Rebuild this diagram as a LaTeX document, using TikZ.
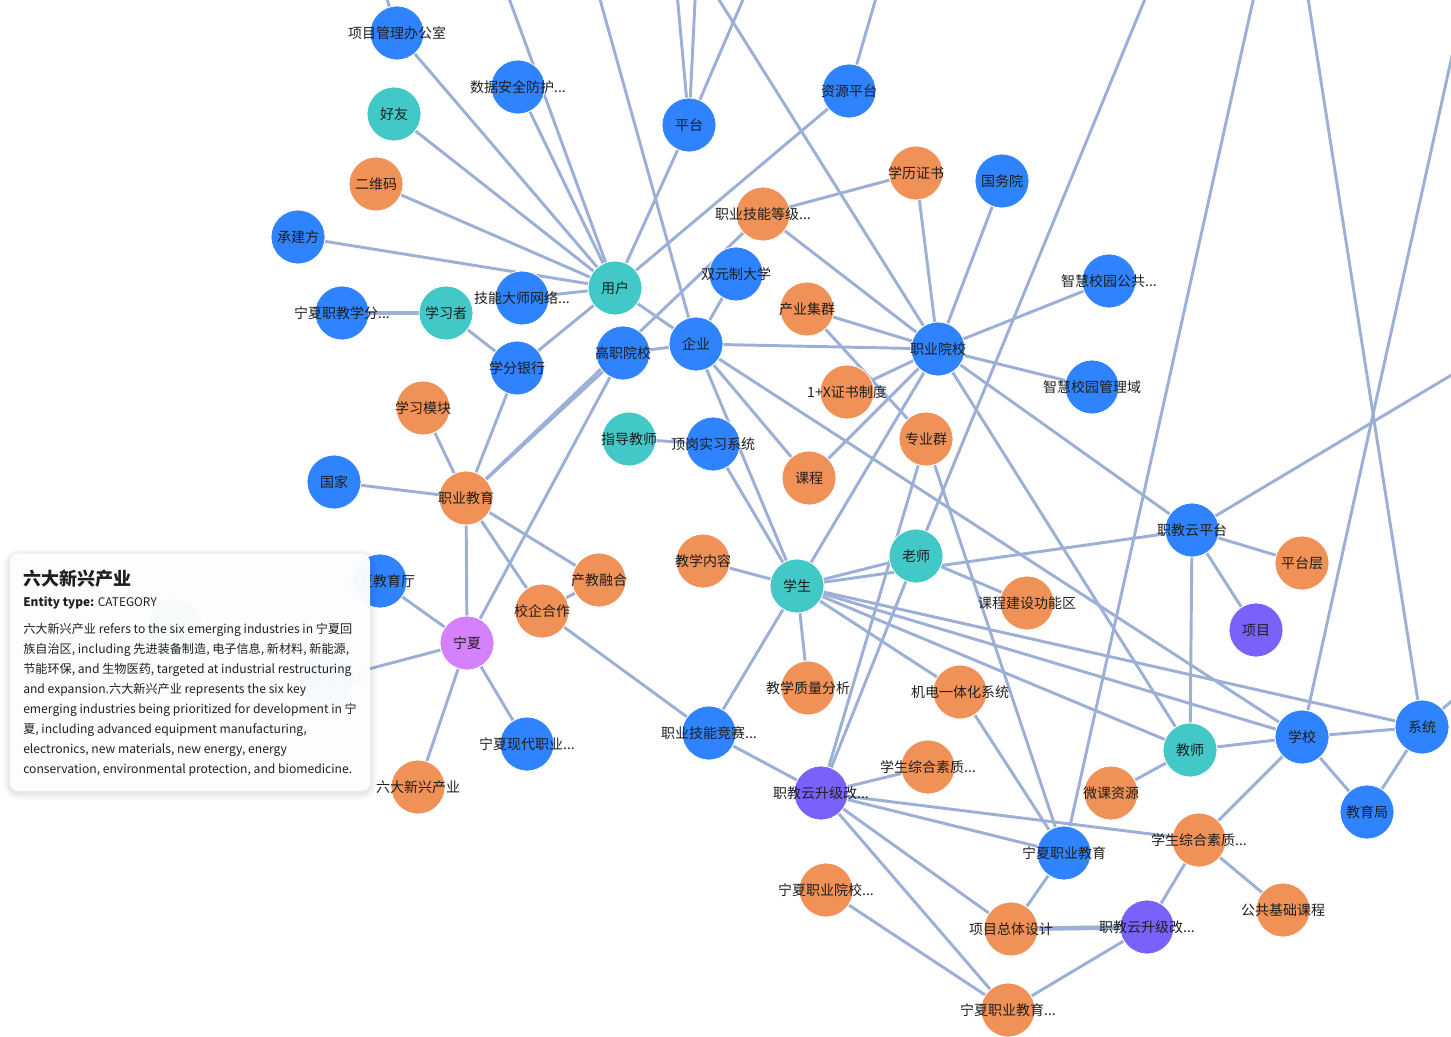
\documentclass[tikz,border=0pt]{standalone}
\usepackage{fontspec}
\setmainfont{Noto Sans CJK SC}
\usetikzlibrary{backgrounds}
\definecolor{OrgBlue}{HTML}{2F83FF}
\definecolor{RoleTeal}{HTML}{42C8C6}
\definecolor{CatOrange}{HTML}{F09157}
\definecolor{ProjPurple}{HTML}{7862FA}
\definecolor{GeoPink}{HTML}{D580FC}
\definecolor{EdgeGrey}{HTML}{9CAFD6}
\definecolor{Ink}{HTML}{1F1F1F}
\tikzset{
  ent/.style={circle,minimum size=40.5pt,inner sep=0pt,draw=white,line width=0.6pt,
    label={[font=\fontsize{10.5}{12}\selectfont,text=Ink]center:#1}},
  org/.style={ent={#1},fill=OrgBlue},
  role/.style={ent={#1},fill=RoleTeal},
  cat/.style={ent={#1},fill=CatOrange},
  proj/.style={ent={#1},fill=ProjPurple},
  geo/.style={ent={#1},fill=GeoPink},
  link/.style={EdgeGrey,line width=2.2pt},
  tipline/.style={anchor=west,inner sep=0pt,text=Ink,font=\fontsize{9.1}{11}\selectfont}
}

\begin{document}
\begin{tikzpicture}[x=0.75pt,y=-0.75pt]
  \useasboundingbox (0,0) rectangle (1451,1037);
  % nodes, left part
  \node[org=项目管理办公室] (xmgl) at (397,33) {};
  \node[org=数据安全防护...] (sjaq) at (518,87) {};
  \node[role=好友] (hy) at (394,114) {};
  \node[cat=二维码] (ewm) at (376,184) {};
  \node[org=承建方] (cjf) at (298,237) {};
  \node[org=平台] (pt) at (689,125) {};
  \node[role=用户] (yh) at (615,288) {};
  \node[org=技能大师网络...] (jnds) at (522,298) {};
  \node[org=宁夏职教学分...] (nxxf) at (342,313) {};
  \node[role=学习者] (xxz) at (446,313) {};
  \node[org=学分银行] (xfyh) at (517,368) {};
  \node[org=高职院校] (gzyx) at (623,353) {};
  \node[org=企业] (qy) at (696,344) {};
  \node[cat=学习模块] (xxmk) at (423,408) {};
  \node[role=指导教师] (zdjs) at (629,439) {};
  \node[org=顶岗实习系统] (dgsx) at (713,444) {};
  \node[org=国家] (gj) at (334,482) {};
  \node[cat=职业教育] (zyjy) at (466,498) {};
  \node[org=宁夏教育厅] (nxjyt) at (380,581) {};
  \node[cat=产教融合] (cjrh) at (599,580) {};
  \node[cat=校企合作] (xqhz) at (542,611) {};
  \node[geo=宁夏] (nx) at (467,643) {};
  \node[org=宁夏现代职业...] (nxxd) at (527,744) {};
  \node[cat=六大新兴产业] (ldxx) at (418,787) {};
  \node[org=职业技能竞赛...] (jnjs) at (709,733) {};
  \node[org=宁夏职业学校] (nxzx) at (327,680) {};
  \node[role=] (ghost) at (175,625) {};
  % nodes, upper right
  \node[org=资源平台] (zypt) at (849,91) {};
  \node[cat=学历证书] (xlzs) at (916,173) {};
  \node[org=国务院] (gwy) at (1002,181) {};
  \node[cat=职业技能等级...] (jndj) at (763,214) {};
  \node[org=双元制大学] (sydx) at (736,274) {};
  \node[cat=产业集群] (cyjq) at (807,309) {};
  \node[org=智慧校园公共...] (zhgg) at (1109,281) {};
  \node[org=职业院校] (zyyx) at (938,349) {};
  \node[org=智慧校园管理域] (zhgl) at (1092,387) {};
  \node[cat=1+X证书制度] (yjx) at (847,392) {};
  \node[cat=专业群] (zyq) at (926,439) {};
  \node[cat=课程] (kc) at (809,478) {};
  % nodes, middle and lower right
  \node[role=老师] (ls) at (916,556) {};
  \node[role=学生] (xs) at (797,586) {};
  \node[cat=教学内容] (jxnr) at (703,561) {};
  \node[cat=课程建设功能区] (kcjs) at (1027,603) {};
  \node[org=职教云平台] (yun) at (1192,530) {};
  \node[cat=平台层] (ptc) at (1302,563) {};
  \node[proj=项目] (xm) at (1256,630) {};
  \node[role=教师] (js) at (1190,750) {};
  \node[org=学校] (xx) at (1302,737) {};
  \node[org=系统] (xt) at (1422,727) {};
  \node[org=教育局] (jyj) at (1367,812) {};
  \node[cat=微课资源] (wkzy) at (1111,793) {};
  \node[cat=教学质量分析] (jxzl) at (808,688) {};
  \node[cat=机电一体化系统] (jdyt) at (960,692) {};
  \node[cat=学生综合素质...] (szsa) at (928,767) {};
  \node[proj=职教云升级改...] (sja) at (821,793) {};
  \node[org=宁夏职业教育] (nxjy) at (1064,853) {};
  \node[cat=学生综合素质...] (szsb) at (1199,840) {};
  \node[cat=宁夏职业院校...] (nxyx) at (826,890) {};
  \node[cat=项目总体设计] (xmzt) at (1011,929) {};
  \node[proj=职教云升级改...] (sjb) at (1147,927) {};
  \node[cat=公共基础课程] (ggjc) at (1283,910) {};
  \node[cat=宁夏职业教育...] (nxjyb) at (1008,1010) {};
  % free ends beyond the frame
  \coordinate (offA) at (380,-25);
  \coordinate (offB) at (495,-40);
  \coordinate (offC) at (589,-40);
  \coordinate (offD) at (674,-40);
  \coordinate (offE) at (697,-40);
  \coordinate (offF) at (760,-40);
  \coordinate (offG) at (694,-40);
  \coordinate (offH) at (887,-40);
  \coordinate (offI) at (1161,-40);
  \coordinate (offJ) at (1262,-40);
  \coordinate (offK) at (1302,-40);
  \coordinate (offL) at (1470,-26);
  \coordinate (offM) at (1480,358);
  \coordinate (offN) at (1480,676);

  \begin{scope}[on background layer]
    \foreach \a/\b in {xmgl/yh,sjaq/yh,hy/yh,ewm/yh,cjf/yh,jnds/yh,pt/yh,zypt/yh,yh/xfyh,yh/qy,
        xxz/xfyh,xfyh/zyjy,xxmk/zyjy,gj/zyjy,zyjy/gzyx,zyjy/jndj,zyjy/nx,zyjy/cjrh,zyjy/xqhz,
        xqhz/cjrh,xqhz/jnjs,nx/gzyx,nx/nxjyt,nx/nxxd,nx/ldxx,nx/nxzx,
        gzyx/qy,sydx/qy,qy/zyyx,qy/kc,qy/xs,qy/xx,
        jndj/xlzs,jndj/zyyx,xlzs/zyyx,gwy/zyyx,zhgg/zyyx,zhgl/zyyx,cyjq/zyyx,cyjq/zyq,
        yjx/zyyx,kc/zyyx,xs/zyyx,zyyx/js,zyyx/yun,
        zdjs/dgsx,dgsx/xs,jxnr/xs,xs/jxzl,xs/jnjs,xs/ls,xs/yun,xs/xt,xs/xx,xs/js,xs/jdyt,
        ls/kcjs,ls/sja,zyq/sja,zyq/nxjy,
        yun/ptc,yun/xm,yun/js,js/wkzy,js/xx,xx/xt,xx/jyj,xt/jyj,xx/szsb,
        jdyt/nxjy,jnjs/sja,sja/szsa,sja/szsb,sja/nxjy,sja/xmzt,sja/nxjyb,nxyx/nxjyb,
        nxjy/xmzt,sjb/szsb,sjb/nxjyb,szsb/ggjc,
        xmgl/offA,yh/offB,qy/offC,pt/offD,pt/offE,pt/offF,zyyx/offG,zypt/offH,
        ls/offI,nxjy/offJ,xt/offK,xx/offL,yun/offM,xt/offN}
      \draw[link] (\a) -- (\b);
    \draw[link,line width=3.4pt] (nxxf) -- (xxz);
    \draw[link,line width=3.4pt] (xmzt) -- (sjb);
  \end{scope}

  % detail card with a soft shadow
  \foreach \s in {7,5,3,1}
    \fill[black,opacity=0.025,rounded corners=6pt+\s pt]
      (10-\s,554-\s+2) rectangle (370+\s,791+\s+2);
  \fill[white,fill opacity=0.96,rounded corners=6pt] (10,554) rectangle (370,791);
  \node[anchor=west,inner sep=0pt,text=Ink,font=\fontsize{13.5}{15}\selectfont\bfseries]
    (tipTitle) at (23,579) {六大新兴产业};
  \node[tipline,font=\fontsize{8.9}{11}\selectfont] (tipType) at (23,603)
    {\textbf{Entity type:} CATEGORY};
  \foreach \t [count=\i] in {
      {六大新兴产业 refers to the six emerging industries in 宁夏回},
      {族自治区, including 先进装备制造, 电子信息, 新材料, 新能源,},
      {节能环保, and 生物医药, targeted at industrial restructuring},
      {and expansion.六大新兴产业 represents the six key},
      {emerging industries being prioritized for development in 宁},
      {夏, including advanced equipment manufacturing,},
      {electronics, new materials, new energy, energy},
      {conservation, environmental protection, and biomedicine.}}
    \node[tipline] (tipL\i) at (23,610+20*\i) {\t};
\end{tikzpicture}
\end{document}
